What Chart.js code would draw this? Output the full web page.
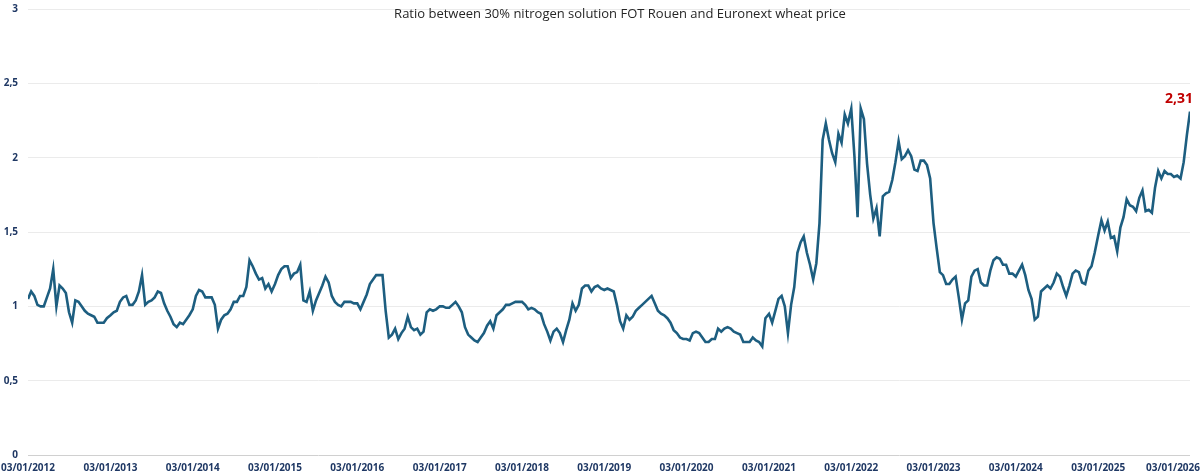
<!DOCTYPE html>
<html>
<head>
<meta charset="utf-8">
<title>Nitrogen / wheat ratio</title>
<script src="https://cdn.jsdelivr.net/npm/chart.js@4.4.1/dist/chart.umd.min.js"></script>
<style>
  html, body { margin: 0; padding: 0; background: #fff; }
  #wrap { width: 1200px; height: 473px; position: relative; }
</style>
</head>
<body>
<div id="wrap"><canvas id="ratioChart"></canvas></div>
<script>
// Ratio 30% N solution FOT Rouen / Euronext wheat
// one value every two weeks, each year starting on 03/01
const chartTitle = 'Ratio between 30% nitrogen solution FOT Rouen and Euronext wheat price';
const years = [2012, 2013, 2014, 2015, 2016, 2017, 2018, 2019, 2020, 2021, 2022, 2023, 2024, 2025, 2026];

const v2012 = [1.05, 1.10, 1.07, 1.01, 1.00, 1.00, 1.06, 1.12, 1.25, 1.00, 1.14, 1.12, 1.09, 0.96, 0.89, 1.04, 1.03, 1.00, 0.97, 0.95, 0.94, 0.93, 0.89, 0.89, 0.89, 0.92];
const v2013 = [0.94, 0.96, 0.97, 1.03, 1.06, 1.07, 1.01, 1.01, 1.04, 1.10, 1.21, 1.01, 1.03, 1.04, 1.06, 1.10, 1.09, 1.02, 0.97, 0.93, 0.88, 0.86, 0.89, 0.88, 0.91, 0.94];
const v2014 = [0.98, 1.07, 1.11, 1.10, 1.06, 1.06, 1.06, 1.01, 0.85, 0.91, 0.94, 0.95, 0.98, 1.03, 1.03, 1.07, 1.07, 1.13, 1.31, 1.27, 1.22, 1.18, 1.19, 1.12, 1.15, 1.10];
const v2015 = [1.15, 1.21, 1.25, 1.27, 1.27, 1.19, 1.22, 1.23, 1.28, 1.04, 1.03, 1.10, 0.97, 1.04, 1.09, 1.14, 1.20, 1.16, 1.07, 1.03, 1.01, 1.00, 1.03, 1.03, 1.03, 1.02];
const v2016 = [1.02, 0.98, 1.03, 1.08, 1.15, 1.18, 1.21, 1.21, 1.21, 0.97, 0.79, 0.81, 0.85, 0.78, 0.82, 0.85, 0.93, 0.86, 0.84, 0.85, 0.81, 0.83, 0.96, 0.98, 0.97, 0.98];
const v2017 = [1.00, 1.00, 0.99, 0.99, 1.01, 1.03, 1.00, 0.96, 0.86, 0.81, 0.79, 0.77, 0.76, 0.79, 0.82, 0.87, 0.90, 0.85, 0.94, 0.96, 0.98, 1.01, 1.01, 1.02, 1.03, 1.03];
const v2018 = [1.03, 1.01, 0.98, 0.99, 0.98, 0.96, 0.95, 0.88, 0.83, 0.77, 0.83, 0.85, 0.82, 0.76, 0.84, 0.91, 1.02, 0.97, 1.01, 1.12, 1.14, 1.14, 1.10, 1.13, 1.14, 1.12];
const v2019 = [1.11, 1.12, 1.11, 1.10, 1.01, 0.90, 0.85, 0.94, 0.91, 0.93, 0.97, 0.99, 1.01, 1.03, 1.05, 1.07, 1.02, 0.97, 0.95, 0.94, 0.92, 0.89, 0.84, 0.82, 0.79, 0.78];
const v2020 = [0.78, 0.77, 0.82, 0.83, 0.82, 0.79, 0.76, 0.76, 0.78, 0.78, 0.85, 0.83, 0.85, 0.86, 0.85, 0.83, 0.82, 0.81, 0.76, 0.76, 0.76, 0.79, 0.77, 0.76, 0.73, 0.92];
const v2021 = [0.95, 0.89, 0.97, 1.05, 1.07, 1.00, 0.82, 1.01, 1.13, 1.36, 1.43, 1.47, 1.36, 1.28, 1.18, 1.29, 1.56, 2.12, 2.23, 2.12, 2.03, 1.97, 2.16, 2.10, 2.29, 2.23];
const v2022 = [2.33, 2.01, 1.60, 2.33, 2.26, 1.96, 1.75, 1.59, 1.66, 1.47, 1.74, 1.76, 1.77, 1.85, 1.97, 2.11, 1.99, 2.01, 2.05, 2.01, 1.92, 1.91, 1.98, 1.98, 1.95, 1.86];
const v2023 = [1.56, 1.39, 1.23, 1.21, 1.15, 1.15, 1.18, 1.20, 1.06, 0.91, 1.02, 1.04, 1.20, 1.24, 1.25, 1.16, 1.14, 1.14, 1.24, 1.31, 1.33, 1.32, 1.28, 1.28, 1.22, 1.22];
const v2024 = [1.20, 1.24, 1.28, 1.21, 1.11, 1.05, 0.91, 0.93, 1.10, 1.12, 1.14, 1.12, 1.16, 1.22, 1.20, 1.13, 1.07, 1.14, 1.22, 1.24, 1.23, 1.16, 1.15, 1.24, 1.27, 1.36];
const v2025 = [1.48, 1.58, 1.51, 1.57, 1.46, 1.47, 1.37, 1.53, 1.60, 1.72, 1.68, 1.67, 1.64, 1.73, 1.78, 1.64, 1.65, 1.63, 1.80, 1.91, 1.86, 1.91, 1.89, 1.89, 1.87, 1.88];
const v2026 = [1.86, 1.97, 2.15, 2.31];

const yearValues = [v2012, v2013, v2014, v2015, v2016, v2017, v2018, v2019, v2020, v2021, v2022, v2023, v2024, v2025, v2026];
const yTicks = [0, 0.5, 1, 1.5, 2, 2.5, 3];

const DAY = 86400000;
const axisColor = '#1f3864';
const lineColor = '#1d5e80';
const fmt = v => String(v).replace('.', ',');

const points = [];
years.forEach((year, k) => {
    const start = Date.UTC(year, 0, 3);
    yearValues[k].forEach((v, i) => points.push({ x: start + i * 14 * DAY, y: v }));
});

// title sits inside the plot area, like the Excel original
const titlePlugin = {
    id: 'titlePlugin',
    afterDraw(chart) {
        const ctx = chart.ctx;
        ctx.save();
        ctx.font = '13px "Open Sans", sans-serif';
        ctx.fillStyle = '#262626';
        ctx.textAlign = 'center';
        ctx.textBaseline = 'alphabetic';
        ctx.fillText(chartTitle, 620, 18);
        ctx.restore();
    }
};

// year labels, pulled inside the canvas at both ends
const yearLabels = {
    id: 'yearLabels',
    afterDraw(chart) {
        const { ctx, scales: { x } } = chart;
        ctx.save();
        ctx.font = 'bold 10px "Open Sans", sans-serif';
        ctx.fillStyle = axisColor;
        ctx.textAlign = 'center';
        ctx.textBaseline = 'middle';
        years.forEach(year => {
            const text = '03/01/' + year;
            const w = ctx.measureText(text).width;
            let px = x.getPixelForValue(Date.UTC(year, 0, 3));
            px = Math.min(Math.max(px, w / 2), chart.width - w / 2);
            ctx.fillText(text, px, 468);
        });
        ctx.restore();
    }
};

// value of the latest point
const lastLabel = {
    id: 'lastLabel',
    afterDatasetsDraw(chart) {
        const meta = chart.getDatasetMeta(0);
        const pt = meta.data[meta.data.length - 1];
        const last = points[points.length - 1].y;
        const ctx = chart.ctx;
        ctx.save();
        ctx.font = 'bold 14px "Open Sans", sans-serif';
        ctx.fillStyle = '#c00000';
        ctx.textAlign = 'center';
        ctx.textBaseline = 'alphabetic';
        ctx.fillText(fmt(last), pt.x - 11, pt.y - 9);
        ctx.restore();
    }
};

new Chart(document.getElementById('ratioChart'), {
    type: 'line',
    data: {
        datasets: [{
            label: 'Ratio',
            data: points,
            borderColor: lineColor,
            borderWidth: 2.6,
            pointRadius: 0,
            tension: 0,
            fill: false
        }]
    },
    options: {
        responsive: true,
        maintainAspectRatio: false,
        animation: false,
        layout: { padding: { top: 9, right: 10, left: 0, bottom: 0 } },
        plugins: {
            legend: { display: false },
            tooltip: { enabled: false }
        },
        scales: {
            x: {
                type: 'linear',
                min: points[0].x,
                max: points[points.length - 1].x,
                grid: { display: false },
                border: { display: false },
                ticks: { display: false },
                afterFit: s => { s.height = 18; }
            },
            y: {
                min: 0,
                max: 3,
                afterBuildTicks: s => { s.ticks = yTicks.map(v => ({ value: v })); },
                afterFit: s => {
                    s.width = 28;
                    s.paddingTop = 0;
                    s.paddingBottom = 0;
                },
                border: { display: false },
                grid: {
                    drawTicks: false,
                    color: c => (c.tick && c.tick.value === 0 ? '#d0d0d0' : '#ebebeb')
                },
                ticks: {
                    padding: 10,
                    color: axisColor,
                    font: { family: 'Open Sans', size: 10, weight: 'bold' },
                    callback: v => fmt(v)
                }
            }
        }
    },
    plugins: [titlePlugin, yearLabels, lastLabel]
});
</script>
</body>
</html>
